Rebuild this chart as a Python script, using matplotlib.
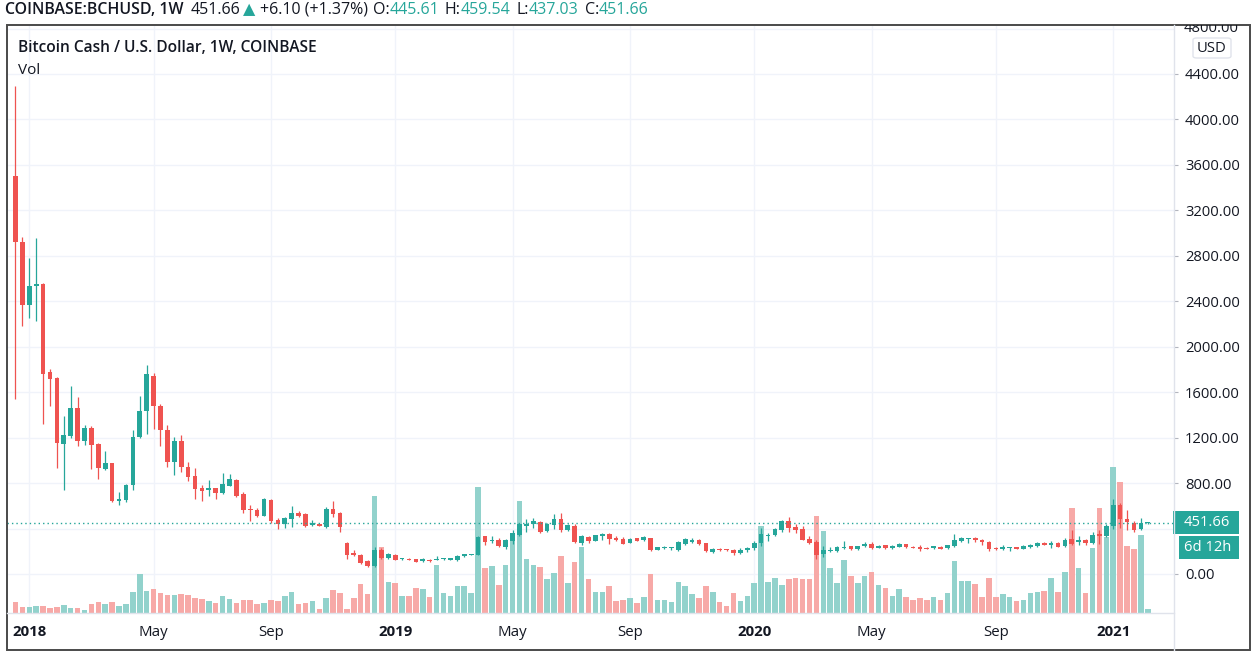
import numpy as np
import pandas as pd
import matplotlib
matplotlib.use("Agg")
import matplotlib.pyplot as plt
import matplotlib.dates as mdates
import matplotlib.transforms as mtrans
from matplotlib.patches import Rectangle, FancyBboxPatch
from matplotlib.lines import Line2D

plt.rcParams['font.family'] = ['Open Sans', 'DejaVu Sans']

# weekly candles COINBASE:BCHUSD, first bar = week of 2017-12-18
first_week = "2017-12-18"
opens = [3504, 2924, 2367, 2531, 2552, 1778, 1724, 1144, 1212, 1465, 1174, 1287, 1144, 921, 974, 644, 647, 787, 1204, 1436,
         1745, 1480, 1270, 989, 1174, 945, 859, 756, 735, 756, 711, 776, 830, 700, 575, 565, 513, 652, 474, 444,
         480, 539, 524, 430, 439, 415, 569, 539, 276, 187, 163, 110, 71, 207, 145, 169, 130, 133, 130, 110,
         127, 124, 130, 127, 124, 154, 166, 166, 332, 293, 302, 237, 287, 347, 421, 436, 459, 376, 430, 480,
         385, 421, 273, 326, 290, 335, 356, 320, 305, 275, 314, 296, 318, 215, 225, 226, 207, 267, 284, 302,
         273, 196, 222, 219, 215, 187, 207, 225, 270, 335, 347, 390, 462, 415, 400, 310, 279, 178, 203, 205,
         230, 243, 222, 243, 264, 232, 252, 225, 240, 262, 240, 238, 230, 226, 237, 228, 247, 290, 305, 317,
         300, 281, 228, 222, 226, 237, 222, 240, 249, 273, 255, 273, 243, 310, 281, 296, 273, 356, 332, 421,
         604, 482, 452, 397, 445.61]
highs = [4293, 2968, 2781, 2959, 2560, 1802, 1733, 1391, 1650, 1561, 1311, 1302, 1153, 1084, 980, 721, 796, 1263, 1570, 1843,
         1769, 1495, 1311, 1204, 1221, 987, 933, 785, 830, 761, 889, 880, 836, 720, 607, 584, 667, 658, 489, 504,
         599, 554, 533, 474, 444, 587, 643, 548, 281, 207, 172, 124, 237, 228, 184, 175, 142, 139, 133, 139,
         133, 154, 139, 142, 163, 175, 175, 338, 338, 332, 317, 311, 385, 450, 480, 495, 465, 450, 530, 539,
         436, 436, 347, 332, 347, 361, 361, 338, 323, 314, 317, 338, 320, 237, 249, 237, 287, 317, 317, 308,
         273, 228, 225, 222, 219, 225, 237, 287, 406, 361, 406, 471, 503, 436, 421, 338, 302, 243, 237, 249,
         287, 249, 249, 284, 278, 252, 252, 258, 273, 266, 249, 252, 240, 249, 246, 258, 353, 326, 320, 326,
         308, 287, 240, 252, 237, 240, 252, 264, 278, 278, 287, 278, 317, 385, 332, 305, 370, 391, 436, 664,
         622, 560, 470, 495, 459.54]
lows = [1540, 2180, 2254, 2224, 1317, 1480, 930, 736, 1198, 1129, 1132, 924, 840, 915, 632, 611, 632, 736, 1198, 1233,
        1278, 1123, 945, 870, 900, 815, 658, 646, 687, 658, 705, 770, 681, 533, 468, 504, 510, 450, 400, 406,
        415, 498, 415, 421, 424, 406, 504, 370, 133, 160, 89, 59, 59, 133, 133, 121, 124, 121, 104, 107,
        107, 124, 124, 124, 118, 148, 163, 166, 258, 273, 237, 219, 267, 332, 367, 406, 361, 370, 400, 367,
        376, 273, 258, 273, 287, 302, 264, 287, 264, 270, 290, 293, 199, 207, 219, 213, 199, 255, 273, 255,
        190, 184, 201, 204, 163, 178, 196, 213, 249, 293, 338, 370, 370, 361, 296, 267, 130, 148, 196, 193,
        219, 207, 207, 237, 219, 225, 222, 219, 234, 231, 225, 204, 216, 222, 216, 219, 237, 279, 273, 279,
        258, 199, 213, 213, 199, 216, 219, 228, 234, 252, 225, 234, 237, 258, 258, 258, 267, 264, 326, 400,
        406, 385, 370, 385, 437.03]
closes = [2924, 2367, 2531, 2552, 1763, 1718, 1153, 1221, 1465, 1168, 1287, 1138, 930, 980, 638, 662, 787, 1206, 1436, 1757,
          1480, 1270, 989, 1174, 945, 851, 747, 732, 759, 711, 794, 836, 690, 563, 560, 510, 658, 468, 444, 489,
          533, 510, 421, 450, 426, 569, 524, 415, 163, 163, 95, 71, 210, 145, 175, 124, 133, 127, 107, 133,
          116, 133, 136, 139, 160, 172, 169, 326, 284, 302, 243, 302, 361, 436, 441, 465, 372, 441, 486, 391,
          427, 279, 332, 287, 341, 353, 311, 296, 267, 311, 293, 323, 207, 234, 234, 234, 279, 308, 302, 267,
          199, 219, 207, 207, 187, 207, 228, 273, 356, 347, 397, 465, 406, 391, 302, 273, 169, 207, 213, 237,
          240, 219, 243, 267, 228, 249, 225, 249, 264, 234, 232, 219, 222, 243, 222, 252, 296, 314, 317, 300,
          281, 219, 219, 234, 234, 219, 249, 258, 273, 255, 273, 237, 302, 264, 302, 273, 347, 332, 421, 607,
          480, 456, 391, 446, 451.66]
# volume, arbitrary units (no scale shown on the chart)
volume = [11, 6, 6, 7, 7, 5, 6, 8, 5, 5, 3, 9, 11, 9, 11, 7, 9, 21, 39, 22,
          24, 20, 18, 18, 19, 18, 15, 14, 12, 10, 17, 14, 10, 13, 13, 9, 10, 13, 12, 17,
          21, 9, 10, 12, 4, 15, 23, 20, 4, 15, 29, 19, 117, 66, 31, 30, 17, 17, 25, 24,
          16, 48, 20, 17, 27, 27, 20, 126, 45, 47, 28, 48, 73, 112, 54, 48, 46, 34, 40, 57,
          30, 51, 66, 34, 21, 21, 27, 12, 13, 15, 10, 16, 39, 13, 13, 11, 31, 27, 19, 15,
          27, 21, 11, 7, 20, 12, 17, 30, 87, 31, 35, 28, 34, 35, 34, 34, 97, 82, 45, 30,
          53, 37, 30, 37, 41, 28, 25, 17, 24, 16, 13, 15, 13, 16, 13, 20, 52, 32, 32, 29,
          16, 35, 16, 19, 16, 12, 13, 20, 21, 22, 35, 21, 41, 105, 45, 20, 65, 105, 76, 146,
          131, 67, 64, 78, 4]

tick_dates = ["2018-01-01", "2018-05-07", "2018-09-03", "2019-01-07", "2019-05-06",
              "2019-09-02", "2020-01-06", "2020-05-04", "2020-09-07", "2021-01-04"]
tick_labels = ["2018", "May", "Sep", "2019", "May", "Sep", "2020", "May", "Sep", "2021"]
price_ticks = [0, 800, 1200, 1600, 2000, 2400, 2800, 3200, 3600, 4000, 4400]
last_price = 451.66

UP, DOWN = "#26a69a", "#ef5350"
VOL_UP, VOL_DOWN = "#92d2cc", "#f7a9a7"
GRID = "#f0f3fa"
TXT = "#131722"
SEP = "#e0e3eb"
FS = 10.6

W, H = 1255, 661
fig = plt.figure(figsize=(W / 100, H / 100), dpi=100)


def fx(px):
    return px / W


def fy(py):
    return 1 - py / H


weeks = pd.date_range(first_week, periods=len(opens), freq="7D")
x = mdates.date2num(weeks)
o, hi, lo, c = map(np.asarray, (opens, highs, lows, closes))
up = c >= o

ax_vol = fig.add_axes([fx(7), fy(613), fx(1174) - fx(7), fy(25) - fy(613)])
ax = ax_vol.twinx()

x0 = x[0] - 1.23 * 7
x1 = x[0] + 167.8 * 7
ax_vol.set_xlim(x0, x1)
ax_vol.set_ylim(0, 588)
ax.set_ylim(-343.2, 4831)

# grid (drawn on the bottom axes so it sits under the volume bars)
grid_tr = mtrans.blended_transform_factory(ax_vol.transAxes, ax.transData)
for v in range(0, 4801, 400):
    ax_vol.add_line(Line2D([0, 1], [v, v], transform=grid_tr, color=GRID, lw=1, zorder=0))
for d in tick_dates:
    ax_vol.axvline(mdates.datestr2num(d), color=GRID, lw=1, zorder=0)

# volume
ax_vol.bar(x, volume, width=7 * 0.8, color=np.where(up, VOL_UP, VOL_DOWN), linewidth=0, zorder=2)

# candles
col = np.where(up, UP, DOWN)
ax.vlines(x, lo, hi, colors=col, lw=0.9, zorder=3)
body_lo = np.minimum(o, c)
body_h = np.maximum(np.abs(c - o), 9)
ax.bar(x, body_h, bottom=body_lo, width=7 * 0.68, color=col, linewidth=0, zorder=4)

ax.axhline(last_price, color=UP, lw=1, ls=(0, (1, 2.2)), zorder=5)

for a in (ax, ax_vol):
    for s in a.spines.values():
        s.set_visible(False)
    a.patch.set_visible(False)

ax_vol.tick_params(axis='y', left=False, labelleft=False)
ax_vol.set_xticks([mdates.datestr2num(d) for d in tick_dates], tick_labels)
ax_vol.tick_params(axis='x', length=0, pad=9, labelsize=10.8, labelcolor=TXT)
for t in ax_vol.get_xticklabels():
    if t.get_text().isdigit():
        t.set_fontweight('bold')

ax.set_yticks(price_ticks, [f"{v:.2f}" for v in price_ticks])
ax.tick_params(axis='y', right=True, length=3, width=0.8, color="#b2b5be", pad=5,
               labelsize=FS, labelcolor=TXT)

# 4800 label, cut by the top of the pane
t48 = fig.text(fx(1184), ax.transData.transform((0, 4800))[1] / H, "4800.00",
               fontsize=FS, color=TXT, va='center', ha='left')
t48.set_clip_on(True)
t48.set_clip_box(mtrans.TransformedBbox(
    mtrans.Bbox.from_extents(fx(1174), fy(613), fx(1250), fy(25)), fig.transFigure))

# separators and frame
fig.add_artist(Line2D([fx(1174), fx(1174)], [fy(650), fy(25)], color=SEP, lw=1))
fig.add_artist(Line2D([fx(7), fx(1174)], [fy(613), fy(613)], color=SEP, lw=1))
fig.add_artist(Rectangle((fx(7), fy(650)), fx(1250) - fx(7), fy(25) - fy(650),
                         fill=False, edgecolor="#4a4a4a", lw=1.4))

# USD box
fig.add_artist(FancyBboxPatch((fx(1193), fy(58)), fx(38), 20 / H,
                              boxstyle="round,pad=0,rounding_size=0.003",
                              facecolor="white", edgecolor=SEP, lw=1))
fig.text(fx(1212), fy(48), "USD", fontsize=FS, color=TXT, ha='center', va='center')

# last price label + countdown
fig.add_artist(Rectangle((fx(1173), fy(534)), fx(66), 23 / H, facecolor=UP, edgecolor='none'))
fig.text(fx(1184), fy(522.5), "451.66", fontsize=FS, color="white", ha='left', va='center')
fig.add_artist(Rectangle((fx(1179), fy(559)), fx(60), 23 / H, facecolor=UP, edgecolor='none'))
fig.text(fx(1184), fy(547.5), "6d 12h", fontsize=FS, color="white", ha='left', va='center')

# legend texts inside the pane
fig.text(fx(18), fy(48), "Bitcoin Cash / U.S. Dollar, 1W, COINBASE", fontsize=11.2,
         fontweight='semibold', color=TXT, ha='left', va='center')
fig.text(fx(18), fy(70), "Vol", fontsize=11, color=TXT, ha='left', va='center')

# header line above the frame
renderer = fig.canvas.get_renderer()
pieces = [("COINBASE:BCHUSD, 1W", TXT, 'semibold', 11.4, 7), ("451.66", TXT, 'normal', 11.5, 3),
          ("\u25b2", UP, 'normal', 11.5, 4), ("+6.10 (+1.37%)", TXT, 'normal', 11.5, 5),
          ("O:", TXT, 'normal', 11.5, 0), ("445.61", UP, 'normal', 11.5, 6),
          ("H:", TXT, 'normal', 11.5, 0), ("459.54", UP, 'normal', 11.5, 6),
          ("L:", TXT, 'normal', 11.5, 0), ("437.03", UP, 'normal', 11.5, 6),
          ("C:", TXT, 'normal', 11.5, 0), ("451.66", UP, 'normal', 11.5, 0)]
xpos = 5
for s, colr, wt, size, gap in pieces:
    t = fig.text(fx(xpos), fy(10), s, fontsize=size, color=colr, fontweight=wt,
                 ha='left', va='center')
    xpos += t.get_window_extent(renderer=renderer).width + gap

fig.savefig("out.png", dpi=100, facecolor="white")
